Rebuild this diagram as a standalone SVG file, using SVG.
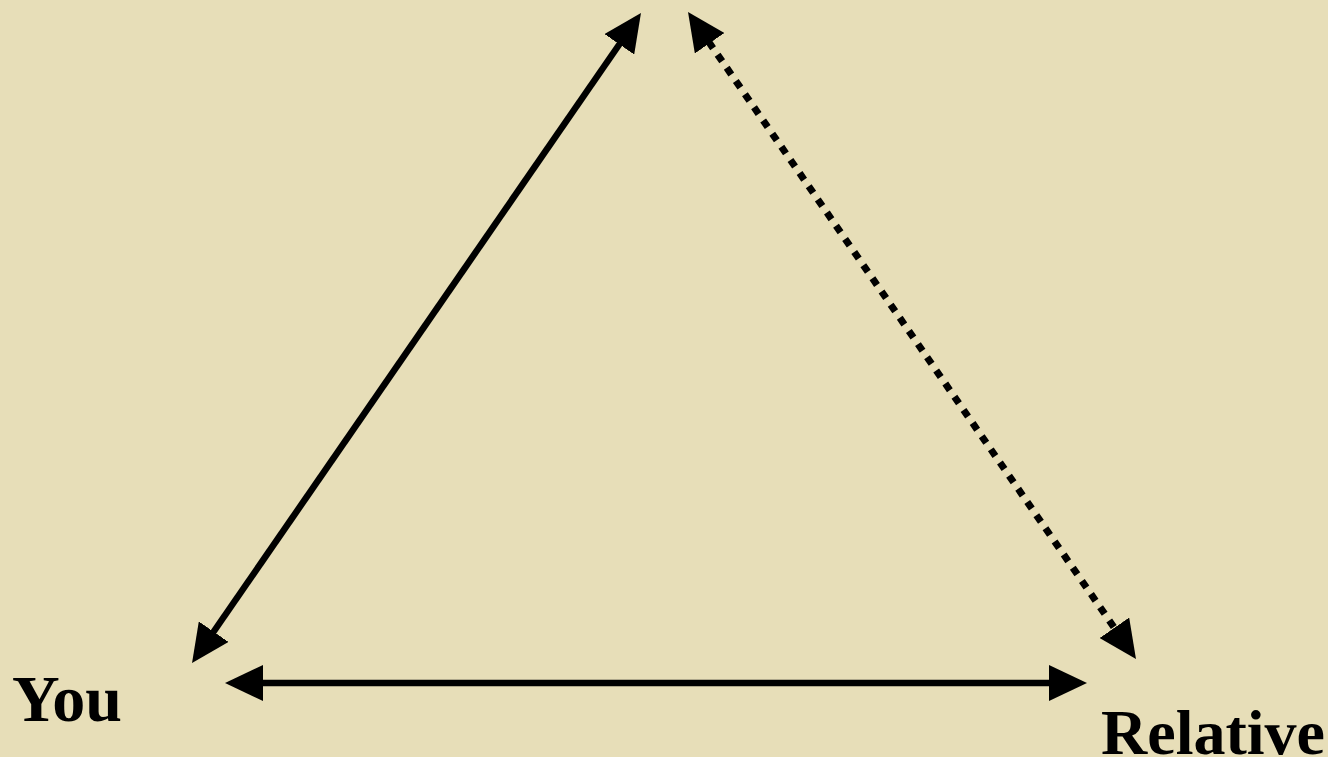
<svg xmlns="http://www.w3.org/2000/svg" width="1328" height="757" viewBox="0 0 1328 757">
  <defs>
    <marker id="ah" markerUnits="userSpaceOnUse" markerWidth="38" markerHeight="36" viewBox="0 0 38 36" refX="18" refY="18" orient="auto-start-reverse">
      <path d="M0,0 L38,18 L0,36 Z" fill="#000"/>
    </marker>
  </defs>
  <style>
    .conn { stroke: #000; stroke-width: 6.5; fill: none; marker-start: url(#ah); marker-end: url(#ah); }
    .dot { stroke-dasharray: 8 8; stroke-width: 7; }
    .lbl { font-family: "Liberation Serif", "Times New Roman", serif; font-weight: bold; fill: #000; }
  </style>
  <rect width="1328" height="757" fill="#E7DEB8"/>
  <g id="connectors">
    <line class="conn" x1="203.4" y1="646.5" x2="629.6" y2="29.5"/>
    <line class="conn dot" x1="699.4" y1="28.4" x2="1124.6" y2="642.6"/>
    <line class="conn" x1="245" y1="683" x2="1067" y2="683"/>
  </g>
  <g id="node-you">
    <text class="lbl" x="12" y="721" font-size="66">You</text>
  </g>
  <g id="node-relative">
    <text class="lbl" x="1101" y="754" font-size="64">Relative</text>
  </g>
</svg>
